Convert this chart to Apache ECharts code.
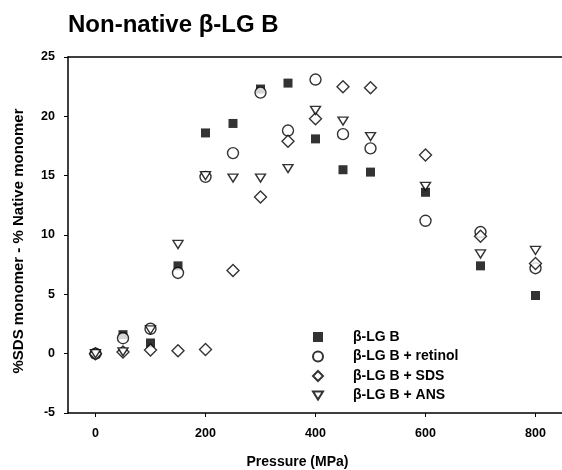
<!DOCTYPE html>
<html>
<head>
<meta charset="utf-8">
<script src="https://cdn.jsdelivr.net/npm/echarts@6/dist/echarts.min.js"></script>
<style>
  html, body { margin: 0; padding: 0; background: #fff; }
  #chart { width: 562px; height: 470px; }
</style>
</head>
<body>
<div id="chart"></div>
<script>
const pressure = [0, 50, 100, 150, 200, 250, 300, 350, 400, 450, 500, 600, 700, 800];
const lgb        = [0, 1.6, 0.9, 7.4, 18.6, 19.4, 22.3, 22.8, 18.1, 15.5, 15.3, 13.6, 7.4, 4.9];
const lgbRetinol = [0, 1.3, 2.1, 6.8, 14.9, 16.9, 22.0, 18.8, 23.1, 18.5, 17.3, 11.2, 10.25, 7.2];
const lgbSds     = [0, 0.15, 0.3, 0.25, 0.35, 7.0, 13.2, 17.9, 19.8, 22.5, 22.4, 16.75, 9.9, 7.6];
const lgbAns     = [0, 0.15, 2.0, 9.2, 15.0, 14.8, 14.8, 15.6, 20.5, 19.6, 18.3, 14.1, 8.4, 8.7];
const xTicks = [0, 200, 400, 600, 800];
const yTicks = [-5, 0, 5, 10, 15, 20, 25];

const pairs = ys => pressure.map((p, i) => [p, ys[i]]);
const font = '"Liberation Sans", Arial, sans-serif';
const openStyle = { color: '#fff', borderColor: '#000', borderWidth: 1.4 };

const chart = echarts.init(document.getElementById('chart'));
chart.setOption({
    animation: false,
    title: {
        text: 'Non-native β-LG B',
        left: 63,
        top: 8,
        textStyle: { fontFamily: font, fontSize: 24, fontWeight: 'bold', color: '#000' }
    },
    grid: { left: 68, top: 57, width: 495, height: 356, outerBoundsMode: 'none' },
    legend: {
        orient: 'vertical',
        left: 307,
        top: 325,
        itemWidth: 10,
        itemHeight: 10,
        itemGap: 5.5,
        data: [
            { name: 'β-LG B' },
            { name: 'β-LG B + retinol' },
            { name: 'β-LG B + SDS' },
            { name: 'β-LG B + ANS', icon: 'path://M0,0 L10,0 L5,8 Z' }
        ],
        textStyle: { fontFamily: font, fontSize: 14, fontWeight: 'bold', color: '#000', padding: [0, 0, 0, 25] }
    },
    xAxis: [{
        type: 'value',
        min: -50,
        max: 850,
        interval: 50,
        name: 'Pressure (MPa)',
        nameLocation: 'middle',
        nameGap: 42,
        nameTextStyle: { fontFamily: font, fontSize: 14, fontWeight: 'bold', color: '#000', padding: [0, 36, 0, 0] },
        axisLine: { onZero: false, lineStyle: { color: '#000', width: 1.5 } },
        axisTick: { inside: false, length: 4, lineStyle: { color: '#000' }, customValues: xTicks },
        axisLabel: {
            customValues: xTicks,
            margin: 14,
            fontFamily: font, fontSize: 12.5, fontWeight: 'bold', color: '#000'
        },
        splitLine: { show: false }
    }, {
        type: 'value',
        position: 'top',
        min: -50,
        max: 850,
        axisLine: { show: true, onZero: false, lineStyle: { color: '#000', width: 1.5 } },
        axisTick: { show: false },
        axisLabel: { show: false },
        splitLine: { show: false }
    }],
    yAxis: {
        type: 'value',
        min: -5,
        max: 25,
        interval: 5,
        name: '%SDS monomer - % Native monomer',
        nameLocation: 'middle',
        nameGap: 42,
        nameTextStyle: { fontFamily: font, fontSize: 15, fontWeight: 'bold', color: '#000', padding: [0, 12, 0, 0] },
        axisLine: { show: true, onZero: false, lineStyle: { color: '#000', width: 1.5 } },
        axisTick: { show: true, length: 4, lineStyle: { color: '#000' } },
        axisLabel: {
            margin: 13,
            formatter: v => (yTicks.includes(v) ? String(v) : ''),
            fontFamily: font, fontSize: 12.5, fontWeight: 'bold', color: '#000'
        },
        splitLine: { show: false }
    },
    series: [{
        name: 'β-LG B',
        type: 'scatter',
        symbol: 'rect',
        symbolSize: 9,
        itemStyle: { color: '#000' },
        data: pairs(lgb)
    }, {
        name: 'β-LG B + retinol',
        type: 'scatter',
        symbol: 'circle',
        symbolSize: 11,
        itemStyle: openStyle,
        data: pairs(lgbRetinol)
    }, {
        name: 'β-LG B + SDS',
        type: 'scatter',
        symbol: 'diamond',
        symbolSize: 12,
        itemStyle: openStyle,
        data: pairs(lgbSds)
    }, {
        name: 'β-LG B + ANS',
        type: 'scatter',
        symbol: 'triangle',
        symbolRotate: 180,
        symbolSize: [10, 8],
        itemStyle: openStyle,
        data: pairs(lgbAns)
    }]
});
</script>
</body>
</html>
